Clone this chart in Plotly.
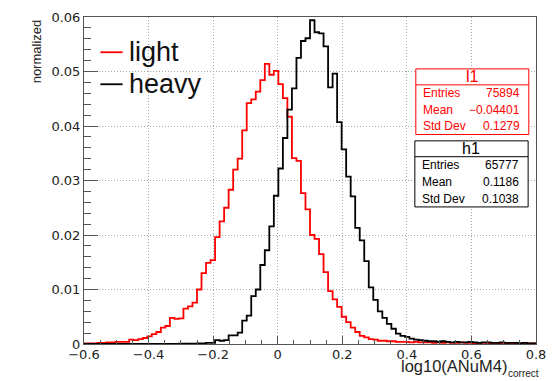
import numpy as np
import plotly.graph_objects as go

# ---------------- data ----------------
X_MIN, X_MAX, N_BINS = -0.6, 0.8, 100

light = [
    0.0001, 0.0001, 0.0001, 0.0002, 0.0002, 0.0003, 0.0003, 0.0004, 0.0004, 0.0004,
    0.0008, 0.0007, 0.0009, 0.0011, 0.0014, 0.0018, 0.0022, 0.0030, 0.0033, 0.0048,
    0.0046, 0.0047, 0.0065, 0.0069, 0.0076, 0.0100, 0.0130, 0.0149, 0.0154, 0.0196,
    0.0225, 0.0250, 0.0283, 0.0320, 0.0340, 0.0392, 0.0442, 0.0449, 0.0463, 0.0484,
    0.0514, 0.0494, 0.0501, 0.0477, 0.0451, 0.0417, 0.0341, 0.0336, 0.0277, 0.0247,
    0.0200, 0.0193, 0.0165, 0.0132, 0.0097, 0.0082, 0.0068, 0.0050, 0.0040, 0.0030,
    0.0022, 0.0015, 0.0012, 0.0009, 0.0008, 0.0006, 0.0006, 0.0005, 0.0005, 0.0004,
    0.0004, 0.0004, 0.0003, 0.0004, 0.0003, 0.0003, 0.0003, 0.0002, 0.0003, 0.0002,
    0.0003, 0.0002, 0.0002, 0.0003, 0.0002, 0.0002, 0.0001, 0.0002, 0.0002, 0.0001,
    0.0002, 0.0002, 0.0001, 0.0001, 0.0002, 0.0001, 0.0001, 0.0002, 0.0001, 0.0001,
]

heavy = [
    0, 0, 0, 0, 0, 0, 0, 0, 0, 0,
    0, 0, 0, 0, 0, 0, 0, 0, 0, 0.00003,
    0.00003, 0.00005, 0.00005, 0.00008, 0.00008, 0.0001, 0.0001, 0.0002, 0.0002, 0.0007,
    0.0006, 0.0007, 0.0016, 0.0016, 0.0021, 0.0043, 0.0052, 0.0088, 0.0100, 0.0145,
    0.0172, 0.0216, 0.0272, 0.0322, 0.0378, 0.0430, 0.0469, 0.0525, 0.0556, 0.0561,
    0.0594, 0.0572, 0.0570, 0.0546, 0.0471, 0.0496, 0.0407, 0.0357, 0.0307, 0.0271,
    0.0213, 0.0190, 0.0152, 0.0104, 0.0081, 0.0060, 0.0048, 0.0037, 0.0028, 0.0019,
    0.0015, 0.0013, 0.0010, 0.0008, 0.0007, 0.0006, 0.0005, 0.0005, 0.0004, 0.0005,
    0.0004, 0.0003, 0.0004, 0.0003, 0.0003, 0.0004, 0.0003, 0.0002, 0.0003, 0.0003,
    0.0002, 0.0002, 0.0003, 0.0002, 0.0002, 0.0002, 0.0001, 0.0002, 0.0001, 0.0001,
]

series_names = ["light", "heavy"]
series_colors = ["#ff0000", "#000000"]

stat_titles = ["l1", "h1"]
stat_labels = ["Entries", "Mean", "Std Dev"]
stat_values_l1 = ["75894", "\u22120.04401", "0.1279"]
stat_values_h1 = ["65777", "0.1186", "0.1038"]

x_title = "log10(ANuM4)"
x_title_sub = "correct"
y_title = "normalized"

# ---------------- figure ----------------
edges = np.linspace(X_MIN, X_MAX, N_BINS + 1)

fig = go.Figure()
for name, vals, col in zip(series_names, [light, heavy], series_colors):
    fig.add_trace(go.Scatter(
        x=edges, y=list(vals) + [vals[-1]],
        mode="lines", line=dict(color=col, width=1.8, shape="hv"),
        name=name, showlegend=False,
    ))

axis_col = "#555555"
grid_col = "#a8a8a8"
tick_font = dict(family="DejaVu Sans", size=13, color="#222222")

fig.update_xaxes(
    range=[X_MIN, X_MAX], tick0=0, dtick=0.2,
    showline=True, linecolor=axis_col, linewidth=1, mirror=True,
    ticks="inside", ticklen=8, tickcolor=axis_col, tickwidth=1,
    minor=dict(dtick=0.05, ticks="inside", ticklen=4, tickcolor=axis_col, showgrid=False),
    showgrid=True, gridcolor=grid_col, griddash="1px,2px", gridwidth=1,
    zeroline=False, tickfont=tick_font, ticklabelstandoff=-2,
)
fig.update_yaxes(
    range=[0, 0.06], tick0=0, dtick=0.01,
    showline=True, linecolor=axis_col, linewidth=1, mirror=True,
    ticks="inside", ticklen=14, tickcolor=axis_col, tickwidth=1,
    minor=dict(dtick=0.002, ticks="inside", ticklen=7, tickcolor=axis_col, showgrid=False),
    showgrid=True, gridcolor=grid_col, griddash="1px,2px", gridwidth=1,
    zeroline=False, tickfont=tick_font,
)

W, H = 556, 381
ML, MR, MT, MB = 84, 12, 10, 37
PW, PH = W - ML - MR, H - MT - MB


def px_x(x):
    return (x - ML) / PW


def px_y(y):
    return (H - MB - y) / PH


annots = []
shapes = []

# axis titles (x title right-aligned at the frame's right edge, with subscript)
annots.append(dict(
    text=x_title, xref="paper", yref="paper",
    x=px_x(516), y=px_y(366), xanchor="right", yanchor="middle", showarrow=False,
    borderpad=0, font=dict(family="Liberation Sans", size=16.5, color="#222222"),
))
annots.append(dict(
    text=x_title_sub, xref="paper", yref="paper",
    x=px_x(514), y=px_y(374.5), xanchor="left", yanchor="middle", showarrow=False,
    borderpad=0, font=dict(family="Liberation Sans", size=10, color="#222222"),
))
annots.append(dict(
    text=y_title, xref="paper", yref="paper", textangle=-90,
    x=px_x(35.5), y=1.0, xanchor="center", yanchor="top", showarrow=False,
    font=dict(family="Liberation Sans", size=13, color="#222222"),
))

# legend (drawn manually, top-left)
shapes.append(dict(type="rect", xref="paper", yref="paper",
                   x0=px_x(85), x1=px_x(228), y0=px_y(93), y1=px_y(28),
                   line=dict(width=0), fillcolor="white", layer="below"))
for name, col, yc in zip(series_names, series_colors, [46, 78.7]):
    shapes.append(dict(type="line", xref="paper", yref="paper",
                       x0=px_x(100.7), x1=px_x(123.3), y0=px_y(yc), y1=px_y(yc),
                       line=dict(color=col, width=1.8), layer="above"))
    annots.append(dict(text=name, xref="paper", yref="paper",
                       x=px_x(128), y=px_y(yc), xanchor="left", yanchor="middle",
                       showarrow=False,
                       font=dict(family="Liberation Sans", size=27, color="#111111")))

# stats boxes
boxes = [
    dict(title=stat_titles[0], values=stat_values_l1, color="#ff0000",
         x0=421.7, x1=536.7, y0=63.0, y1=130.0, sep=79.3),
    dict(title=stat_titles[1], values=stat_values_h1, color="#000000",
         x0=420.7, x1=536.0, y0=136.5, y1=204.0, sep=152.7),
]
for b in boxes:
    shapes.append(dict(type="rect", xref="paper", yref="paper",
                       x0=px_x(b["x0"]), x1=px_x(b["x1"]),
                       y0=px_y(b["y1"]), y1=px_y(b["y0"]),
                       line=dict(color=b["color"], width=1), fillcolor="white",
                       layer="above"))
    shapes.append(dict(type="line", xref="paper", yref="paper",
                       x0=px_x(b["x0"]), x1=px_x(b["x1"]),
                       y0=px_y(b["sep"]), y1=px_y(b["sep"]),
                       line=dict(color=b["color"], width=1), layer="above"))
    annots.append(dict(text=b["title"], xref="paper", yref="paper",
                       x=px_x((b["x0"] + b["x1"]) / 2), y=px_y((b["y0"] + b["sep"]) / 2),
                       xanchor="center", yanchor="middle", showarrow=False,
                       font=dict(family="Liberation Sans", size=16, color=b["color"])))
    row_h = (b["y1"] - b["sep"]) / 3
    for i, (lab, val) in enumerate(zip(stat_labels, b["values"])):
        yc = b["sep"] + row_h * (i + 0.5)
        annots.append(dict(text=lab, xref="paper", yref="paper",
                           x=px_x(b["x0"] + 5), y=px_y(yc), xanchor="left", yanchor="middle",
                           showarrow=False,
                           font=dict(family="Liberation Sans", size=12, color=b["color"])))
        annots.append(dict(text=val, xref="paper", yref="paper",
                           x=px_x(b["x1"] - 7), y=px_y(yc), xanchor="right", yanchor="middle",
                           showarrow=False,
                           font=dict(family="Liberation Sans", size=12, color=b["color"])))

fig.update_layout(
    width=W, height=H,
    margin=dict(l=ML, r=MR, t=MT, b=MB),
    paper_bgcolor="white", plot_bgcolor="white",
    showlegend=False,
    annotations=annots, shapes=shapes,
)

fig.write_html("out.html")
